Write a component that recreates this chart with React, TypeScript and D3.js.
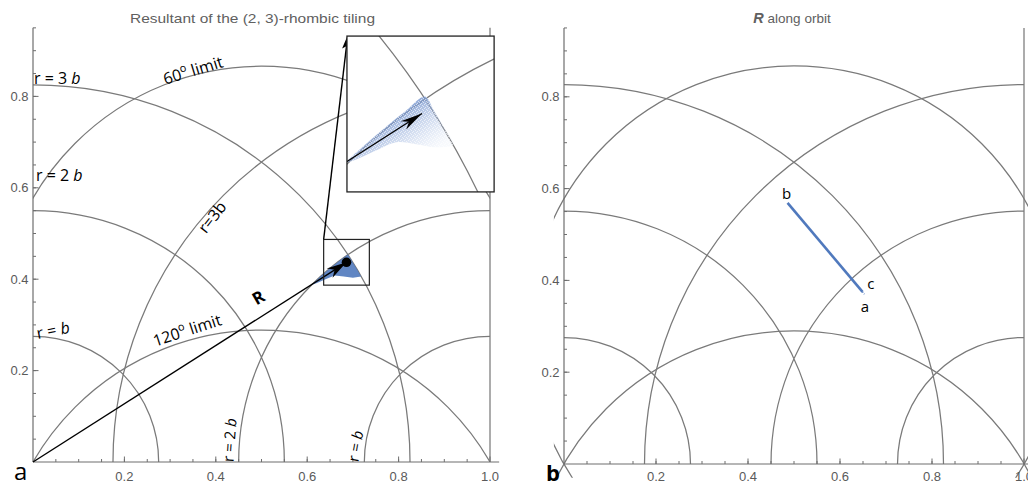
import React from 'react';
import * as d3 from 'd3';

// ---- data ----
const bLen = 0.275;                       // tile edge b
const radiusMultiples = [1, 2, 3];        // r = b, 2b, 3b
const arcCentres = [0, 1];                // arcs centred at (0,0) and (1,0)
const limitAngles = [60, 120];            // 60° and 120° limit circles
const xTickValues = [0.2, 0.4, 0.6, 0.8, 1.0];
const yTickValues = [0.2, 0.4, 0.6, 0.8];
const minorTickValues = d3.range(0.05, 0.951, 0.05);
const yTop = 0.95;
const resultant: [number, number] = [0.686, 0.437];
const zoomBoxX = [0.636, 0.736];
const zoomBoxY = [0.387, 0.487];
const insetViewX = [0.61, 0.759];
const insetViewY = [0.358, 0.515];
const insetPlaceX = [0.687, 1.009];
const insetPlaceY = [0.591, 0.932];
const cloudOutline: [number, number][] = [
  [0.61, 0.388], [0.63, 0.407], [0.65, 0.424], [0.67, 0.44], [0.689, 0.454],
  [0.698, 0.44], [0.71, 0.42], [0.718, 0.406], [0.70, 0.403], [0.68, 0.406],
  [0.66, 0.408], [0.64, 0.400], [0.62, 0.391],
];
const orbitStart: [number, number] = [0.486, 0.569];
const orbitEnd: [number, number] = [0.649, 0.375];
const orbitLabels = [
  { text: 'b', x: 0.484, y: 0.59 },
  { text: 'c', x: 0.667, y: 0.394 },
  { text: 'a', x: 0.654, y: 0.344 },
];

const GRAY = '#7a7a7a';
const AXIS = '#6e6e6e';
const TICKC = '#5a5a5a';
const BLUE = '#5079bd';
const LABEL_FONT = "'Open Sans', sans-serif";
const TICK_FONT = "'Liberation Sans', Arial, sans-serif";
const ARC_W = 1.25;

type Sc = d3.ScaleLinear<number, number>;

function rArcsPath(x: Sc, y: Sc) {
  const p = d3.path();
  arcCentres.forEach((c) => {
    radiusMultiples.forEach((m) => {
      const r = x(m * bLen) - x(0);
      const cx = x(c);
      const cy = y(0);
      if (c === 0) {
        p.moveTo(cx + r, cy);
        p.arc(cx, cy, r, 0, -Math.PI / 2, true);
      } else {
        p.moveTo(cx, cy - r);
        p.arc(cx, cy, r, -Math.PI / 2, -Math.PI, true);
      }
    });
  });
  return p.toString();
}

function limitCircles(x: Sc, y: Sc, clip: string) {
  return limitAngles.map((a) => {
    const t = (a * Math.PI) / 180;
    const cyD = 0.5 / Math.tan(t);
    const rD = 0.5 / Math.sin(t);
    return (
      <circle key={a} cx={x(0.5)} cy={y(cyD)} r={x(rD) - x(0)} fill="none"
        stroke={GRAY} strokeWidth={ARC_W} clipPath={`url(#${clip})`} />
    );
  });
}

function arrowHead(x1: number, y1: number, tx: number, ty: number, len: number, wid: number, notch: number) {
  const ang = Math.atan2(ty - y1, tx - x1);
  const ux = Math.cos(ang), uy = Math.sin(ang);
  const px = -uy, py = ux;
  const bx = tx - len * ux, by = ty - len * uy;
  const nx = tx - len * (1 - notch) * ux, ny = ty - len * (1 - notch) * uy;
  return `M${tx},${ty}L${bx + px * wid / 2},${by + py * wid / 2}L${nx},${ny}L${bx - px * wid / 2},${by - py * wid / 2}Z`;
}

function Axes({ x, y, xEnd, labelOffset }: { x: Sc; y: Sc; xEnd: number; labelOffset: number }) {
  const x0 = x(0), y0 = y(0);
  return (
    <g>
      <line x1={x0} x2={xEnd} y1={y0} y2={y0} stroke={AXIS} strokeWidth={1.2} />
      <line x1={x0} x2={x0} y1={y0} y2={y(yTop)} stroke={AXIS} strokeWidth={1.2} />
      {minorTickValues.map((v) => (
        <g key={v}>
          <line x1={x(v)} x2={x(v)} y1={y0} y2={y0 - 3} stroke={AXIS} strokeWidth={1} />
          <line x1={x0} x2={x0 + 3} y1={y(v)} y2={y(v)} stroke={AXIS} strokeWidth={1} />
        </g>
      ))}
      {xTickValues.map((v) => (
        <g key={v}>
          <line x1={x(v)} x2={x(v)} y1={y0} y2={y0 - 5.5} stroke={AXIS} strokeWidth={1} />
          <text x={x(v)} y={y0 + labelOffset} textAnchor="middle" fontFamily={TICK_FONT}
            fontSize={13} fill={TICKC}>{v.toFixed(1)}</text>
        </g>
      ))}
      {yTickValues.map((v) => (
        <g key={v}>
          <line x1={x0} x2={x0 + 5.5} y1={y(v)} y2={y(v)} stroke={AXIS} strokeWidth={1} />
          <text x={x0 - 4.5} y={y(v) + 4.5} textAnchor="end" fontFamily={TICK_FONT}
            fontSize={13} fill={TICKC}>{v.toFixed(1)}</text>
        </g>
      ))}
    </g>
  );
}

function RotLabel({ px, py, rot, children, size = 16, weight = 400 }: any) {
  return (
    <text transform={`translate(${px},${py}) rotate(${rot})`} textAnchor="middle"
      dominantBaseline="central" fontFamily={LABEL_FONT} fontSize={size} fontWeight={weight} fill="#000">
      {children}
    </text>
  );
}

function LeftPanel() {
  const x = d3.scaleLinear().domain([0, 1]).range([33, 490]);
  const y = d3.scaleLinear().domain([0, 1]).range([462, 5]);
  const ix = d3.scaleLinear().domain(insetViewX).range([x(insetPlaceX[0]), x(insetPlaceX[1])]);
  const iy = d3.scaleLinear().domain(insetViewY).range([y(insetPlaceY[0]), y(insetPlaceY[1])]);
  const line = (sx: Sc, sy: Sc) => d3.line<[number, number]>().x((d) => sx(d[0])).y((d) => sy(d[1]));
  const cloudMain = line(x, y).curve(d3.curveLinearClosed)(cloudOutline) || '';
  const cloudInset = line(ix, iy).curve(d3.curveCatmullRomClosed.alpha(0.5))(cloudOutline) || '';
  const [rx, ry] = resultant;
  const tipX = x(rx), tipY = y(ry);
  const itX = ix(rx), itY = iy(ry);
  const zbx0 = x(zoomBoxX[0]), zby0 = y(zoomBoxY[1]);
  const insX0 = x(insetPlaceX[0]), insY0 = y(insetPlaceY[1]);
  return (
    <g>
      <defs>
        <clipPath id="clipL"><rect x={x(0)} y={y(yTop)} width={x(1) - x(0)} height={y(0) - y(yTop)} /></clipPath>
        <clipPath id="clipInset"><rect x={ix(insetViewX[0])} y={iy(insetViewY[1])}
          width={ix(insetViewX[1]) - ix(insetViewX[0])} height={iy(insetViewY[0]) - iy(insetViewY[1])} /></clipPath>
        <linearGradient id="cloudGrad" gradientUnits="userSpaceOnUse"
          x1={ix(0.66)} y1={iy(0.44)} x2={ix(0.69)} y2={iy(0.395)}>
          <stop offset="0" stopColor="#7393cd" stopOpacity={0.85} />
          <stop offset="0.45" stopColor="#9db4de" stopOpacity={0.5} />
          <stop offset="1" stopColor="#c4d3ee" stopOpacity={0.12} />
        </linearGradient>
        <pattern id="speckle" width={4} height={4} patternUnits="userSpaceOnUse">
          <rect x={0} y={0} width={1} height={1} fill="#fff" />
          <rect x={2} y={1} width={1} height={1} fill="#fff" />
          <rect x={1} y={3} width={1} height={1} fill="#fff" />
          <rect x={3} y={2} width={1} height={1} fill="#fff" />
        </pattern>
      </defs>
      <text x={252.5} y={22.5} textAnchor="middle" fontFamily={TICK_FONT} fontSize={13.5} fill="#606060"
        textLength={245} lengthAdjust="spacingAndGlyphs">Resultant of the (2, 3)-rhombic tiling</text>
      <path d={rArcsPath(x, y)} fill="none" stroke={GRAY} strokeWidth={ARC_W} />
      {limitCircles(x, y, 'clipL')}
      <line x1={x(1)} x2={x(1)} y1={y(0)} y2={y(yTop)} stroke={GRAY} strokeWidth={ARC_W} />
      <Axes x={x} y={y} xEnd={x(1.02)} labelOffset={18.5} />

      {/* cloud + resultant */}
      <path d={cloudMain} fill={BLUE} fillOpacity={0.9} />
      <line x1={x(0)} y1={y(0)} x2={tipX} y2={tipY} stroke="#000" strokeWidth={1.4} />
      <path d={arrowHead(x(0), y(0), tipX, tipY, 20, 11, 0.3)} fill="#000" />
      <circle cx={tipX} cy={tipY} r={4.8} fill="#000" />
      <rect x={zbx0} y={zby0} width={x(zoomBoxX[1]) - zbx0} height={y(zoomBoxY[0]) - zby0}
        fill="none" stroke="#222" strokeWidth={1.2} />
      <line x1={zbx0} y1={zby0} x2={insX0} y2={insY0 + 6} stroke="#000" strokeWidth={1.4} />
      <path d={arrowHead(zbx0, zby0, insX0, insY0 + 1, 12, 7, 0.2)} fill="#000" />

      {/* inset */}
      <rect x={insX0} y={insY0} width={x(insetPlaceX[1]) - insX0} height={y(insetPlaceY[0]) - insY0}
        fill="#fff" stroke="none" />
      <g clipPath="url(#clipInset)">
        <path d={rArcsPath(ix, iy)} fill="none" stroke={GRAY} strokeWidth={ARC_W} />
        {limitCircles(ix, iy, 'clipInset')}
        <path d={cloudInset} fill="url(#cloudGrad)" />
        <path d={cloudInset} fill="url(#speckle)" fillOpacity={0.6} />
        <line x1={ix(0)} y1={iy(0)} x2={itX} y2={itY} stroke="#000" strokeWidth={1.4} />
        <path d={arrowHead(ix(0), iy(0), itX, itY, 22, 10, 0.3)} fill="#000" />
      </g>
      <rect x={insX0} y={insY0} width={x(insetPlaceX[1]) - insX0} height={y(insetPlaceY[0]) - insY0}
        fill="none" stroke="#222" strokeWidth={1.3} />

      {/* labels */}
      <text x={34} y={84} fontFamily={LABEL_FONT} fontSize={16}>r = 3 <tspan fontStyle="italic">b</tspan></text>
      <text x={36} y={181} fontFamily={LABEL_FONT} fontSize={16}>r = 2 <tspan fontStyle="italic">b</tspan></text>
      <RotLabel px={53} py={330} rot={-11}>r = <tspan fontStyle="italic">b</tspan></RotLabel>
      <RotLabel px={193} py={70} rot={-17}>60<tspan fontSize={11} dy={-6}>o</tspan><tspan dy={6}> limit</tspan></RotLabel>
      <RotLabel px={212} py={217} rot={-52}>r=3b</RotLabel>
      <RotLabel px={258} py={297} rot={-30} size={17} weight={700}>R</RotLabel>
      <RotLabel px={187} py={330} rot={-18}>120<tspan fontSize={11} dy={-6}>o</tspan><tspan dy={6}> limit</tspan></RotLabel>
      <RotLabel px={229} py={440} rot={-86} size={15}>r = 2 <tspan fontStyle="italic">b</tspan></RotLabel>
      <RotLabel px={355} py={446} rot={-80} size={15}>r = <tspan fontStyle="italic">b</tspan></RotLabel>
      <text x={14} y={480} fontFamily={LABEL_FONT} fontSize={24} fill="#000">a</text>
    </g>
  );
}

function RightPanel() {
  const x = d3.scaleLinear().domain([0, 1]).range([564, 1024]);
  const y = d3.scaleLinear().domain([0, 1]).range([464, 5]);
  return (
    <g>
      <defs>
        <clipPath id="clipR"><rect x={x(-0.022)} y={y(yTop)} width={x(1.022) - x(-0.022)} height={y(-0.03) - y(yTop)} /></clipPath>
      </defs>
      <text x={792} y={22.5} textAnchor="middle" fontFamily={TICK_FONT} fontSize={13.5} fill="#606060">
        <tspan fontWeight={700} fontStyle="italic" fontSize={14.5}>R</tspan> along orbit</text>
      <path d={rArcsPath(x, y)} fill="none" stroke={GRAY} strokeWidth={ARC_W} />
      {limitCircles(x, y, 'clipR')}
      <line x1={x(1)} x2={x(1)} y1={y(0)} y2={y(yTop)} stroke={GRAY} strokeWidth={ARC_W} />
      <Axes x={x} y={y} xEnd={1030} labelOffset={17} />
      <line x1={x(orbitStart[0])} y1={y(orbitStart[1])} x2={x(orbitEnd[0])} y2={y(orbitEnd[1])}
        stroke={BLUE} strokeWidth={2.6} />
      <line x1={x(orbitEnd[0])} y1={y(orbitEnd[1])} x2={x(orbitEnd[0] + 0.004)} y2={y(orbitEnd[1] - 0.005)}
        stroke={BLUE} strokeWidth={1.5} strokeDasharray="1 1.5" />
      {orbitLabels.map((l) => (
        <text key={l.text} x={x(l.x)} y={y(l.y)} textAnchor="middle" dominantBaseline="central"
          fontFamily={LABEL_FONT} fontSize={15} fill="#000">{l.text}</text>
      ))}
      <text x={546} y={481} fontFamily={LABEL_FONT} fontSize={22} fontWeight={700} fill="#000">b</text>
    </g>
  );
}

export default function App() {
  return (
    <svg width={1028} height={486} viewBox="0 0 1028 486"
      style={{ position: 'absolute', left: 0, top: 0, background: '#fff' }}>
      <rect width={1028} height={486} fill="#fff" />
      <LeftPanel />
      <RightPanel />
    </svg>
  );
}
